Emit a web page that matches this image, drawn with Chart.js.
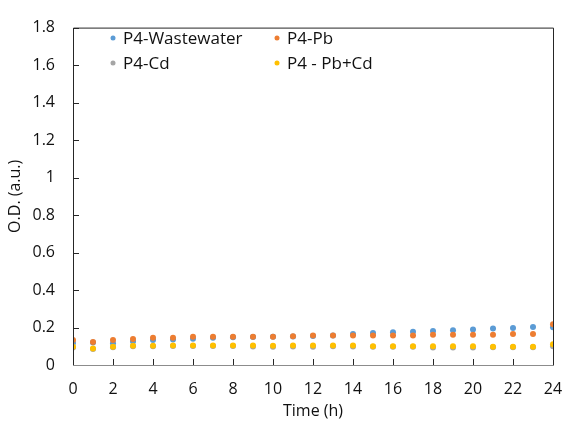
<!DOCTYPE html>
<html>
<head>
<meta charset="utf-8">
<script src="https://cdn.jsdelivr.net/npm/chart.js@4/dist/chart.umd.min.js"></script>
<style>
    html, body { margin: 0; padding: 0; background: #fff; }
    #wrap { width: 565px; height: 424px; position: relative; }
</style>
</head>
<body>
<div id="wrap"><canvas id="odChart"></canvas></div>
<script>
const hours = [0, 1, 2, 3, 4, 5, 6, 7, 8, 9, 10, 11, 12, 13, 14, 15, 16, 17, 18, 19, 20, 21, 22, 23, 24];

const wastewater = [0.118, 0.120, 0.116, 0.126, 0.133, 0.136, 0.140, 0.146, 0.148, 0.150, 0.151, 0.152, 0.155, 0.158,
    0.166, 0.171, 0.175, 0.178, 0.181, 0.185, 0.190, 0.195, 0.198, 0.203, 0.201];
const pb = [0.134, 0.123, 0.134, 0.139, 0.145, 0.146, 0.151, 0.151, 0.151, 0.151, 0.151, 0.153, 0.158, 0.158,
    0.158, 0.158, 0.158, 0.158, 0.161, 0.161, 0.161, 0.161, 0.165, 0.165, 0.217];
const cd = [0.094, 0.085, 0.095, 0.100, 0.100, 0.101, 0.101, 0.101, 0.101, 0.099, 0.098, 0.099, 0.098, 0.100,
    0.099, 0.097, 0.097, 0.097, 0.093, 0.093, 0.093, 0.095, 0.095, 0.095, 0.100];
const pbCd = [0.098, 0.088, 0.098, 0.103, 0.103, 0.104, 0.104, 0.104, 0.104, 0.104, 0.103, 0.104, 0.104, 0.104,
    0.104, 0.100, 0.100, 0.100, 0.100, 0.100, 0.100, 0.098, 0.098, 0.098, 0.111];

const seriesNames = ['P4-Wastewater', 'P4-Pb', 'P4-Cd', 'P4 - Pb+Cd'];
const seriesColors = ['#5B9BD5', '#ED7D31', '#A5A5A5', '#FFC000'];
const yTicks = [0, 0.2, 0.4, 0.6, 0.8, 1, 1.2, 1.4, 1.6, 1.8];
const xTicks = [0, 2, 4, 6, 8, 10, 12, 14, 16, 18, 20, 22, 24];

const FONT = "'Open Sans', sans-serif";
const TEXT = '#111';

function toPoints(values) {
    return hours.map((h, i) => ({ x: h, y: values[i] }));
}

// box around the plot, inward tick marks and the two-column legend
const framePlugin = {
    id: 'frame',
    afterDraw(chart) {
        const ctx = chart.ctx;
        const area = chart.chartArea;
        const xs = chart.scales.x;
        const ys = chart.scales.y;
        ctx.save();
        ctx.lineWidth = 1;
        ctx.strokeStyle = '#262626';
        ctx.beginPath();
        ctx.moveTo(area.left + 0.5, area.bottom);
        ctx.lineTo(area.left + 0.5, area.top + 0.5);
        ctx.lineTo(area.right + 0.5, area.top + 0.5);
        ctx.lineTo(area.right + 0.5, area.bottom);
        ctx.stroke();

        ctx.strokeStyle = '#8c8c8c';
        ctx.beginPath();
        ctx.moveTo(area.left, area.bottom + 0.5);
        ctx.lineTo(area.right + 1, area.bottom + 0.5);
        ctx.stroke();

        ctx.strokeStyle = '#262626';
        ctx.beginPath();
        yTicks.forEach(v => {
            const py = Math.round(ys.getPixelForValue(v)) + 0.5;
            if (v === 0) return;
            ctx.moveTo(area.left, py);
            ctx.lineTo(area.left + 6, py);
        });
        xTicks.forEach(v => {
            const px = Math.round(xs.getPixelForValue(v)) + 0.5;
            ctx.moveTo(px, area.bottom);
            ctx.lineTo(px, area.bottom - 6);
        });
        ctx.stroke();

        // legend
        const cols = [113, 277];
        const rows = [38, 63];
        ctx.font = '17px ' + FONT;
        ctx.textBaseline = 'middle';
        ctx.textAlign = 'left';
        seriesNames.forEach((name, i) => {
            const cx = cols[i % 2];
            const cy = rows[Math.floor(i / 2)];
            ctx.fillStyle = seriesColors[i];
            ctx.beginPath();
            ctx.arc(cx, cy, 2.5, 0, Math.PI * 2);
            ctx.fill();
            ctx.fillStyle = TEXT;
            ctx.fillText(name, cx + 10, cy + 1);
        });
        ctx.restore();
    }
};

const datasets = [wastewater, pb, cd, pbCd].map((vals, i) => ({
    label: seriesNames[i],
    data: toPoints(vals),
    backgroundColor: seriesColors[i],
    borderColor: seriesColors[i],
    pointRadius: 3,
    pointBorderWidth: 0,
    showLine: false,
    order: 4 - i
}));

new Chart(document.getElementById('odChart'), {
    type: 'scatter',
    data: { datasets },
    plugins: [framePlugin],
    options: {
        responsive: true,
        maintainAspectRatio: false,
        animation: false,
        layout: { padding: { top: 14, right: 0, left: 0, bottom: 0 } },
        plugins: {
            legend: { display: false },
            tooltip: { enabled: false }
        },
        scales: {
            x: {
                type: 'linear',
                min: 0,
                max: 24,
                afterFit: s => { s.height = 59; s.paddingRight = 12; },
                afterBuildTicks: s => { s.ticks = xTicks.map(v => ({ value: v })); },
                grid: { display: false, drawTicks: false },
                border: { display: false },
                ticks: { color: TEXT, padding: 15, font: { family: FONT, size: 16 } },
                title: {
                    display: true,
                    text: 'Time (h)',
                    color: TEXT,
                    font: { family: FONT, size: 16 },
                    padding: { top: 0, bottom: 3 }
                }
            },
            y: {
                min: 0,
                max: 1.8,
                afterFit: s => { s.width = 73; },
                afterBuildTicks: s => { s.ticks = yTicks.map(v => ({ value: v })); },
                grid: { display: false, drawTicks: false },
                border: { display: false },
                ticks: {
                    color: TEXT,
                    padding: 18,
                    font: { family: FONT, size: 16 },
                    callback: v => String(v)
                },
                title: {
                    display: true,
                    text: 'O.D. (a.u.)',
                    color: TEXT,
                    font: { family: FONT, size: 16 },
                    padding: { top: 6, bottom: 0 }
                }
            }
        }
    }
});
</script>
</body>
</html>
